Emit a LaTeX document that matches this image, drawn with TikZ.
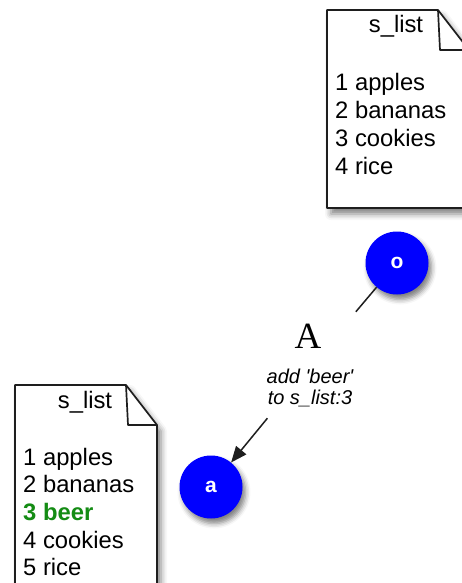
\documentclass[tikz,border=0pt]{standalone}
\usepackage{fontspec}
\setmainfont{Liberation Sans}
\newfontfamily\labelserif{Liberation Serif}
\usetikzlibrary{arrows.meta,shadows.blur}

\definecolor{inkgray}{RGB}{30,30,30}
\definecolor{beergreen}{RGB}{20,140,20}
\definecolor{stateblue}{RGB}{0,0,255}

\tikzset{
  sheet/.style={draw=inkgray, line width=1.7pt, line join=round, fill=white,
    blur shadow={shadow xshift=4pt, shadow yshift=-6pt, shadow blur radius=6pt, shadow opacity=50}},
  flap/.style={draw=inkgray, line width=1.7pt, line join=round},
  entry/.style={anchor=base west, inner sep=0pt, text=black, font=\fontsize{23.8}{27}\selectfont},
  sheettitle/.style={anchor=base, inner sep=0pt, text=black, font=\fontsize{23.8}{27}\selectfont},
  state/.style={circle, fill=stateblue, minimum size=63pt, inner sep=0pt, text=white,
    font=\bfseries\fontsize{21}{24}\selectfont,
    blur shadow={shadow xshift=3pt, shadow yshift=-5pt, shadow blur radius=5pt, shadow opacity=50}},
  link/.style={draw=inkgray, line width=1.5pt},
}

\begin{document}
\begin{tikzpicture}[x=1pt, y=-1pt]
\useasboundingbox (0,0) rectangle (462,583);
\clip (0,0) rectangle (462,583);

% upper list sheet
\path[sheet] (327,10) -- (438,10) -- (469,50) -- (469,208) -- (327,208) -- cycle;
\path[flap] (438,10) -- (440,50) -- (469,50);
\node[sheettitle] (ttitle) at (396,33) {s\_list};
\node[entry] (t1) at (335,91.0) {1 apples};
\node[entry] (t2) at (335,118.7) {2 bananas};
\node[entry] (t3) at (335,146.4) {3 cookies};
\node[entry] (t4) at (335,174.1) {4 rice};

% lower list sheet
\path[sheet] (15,385) -- (126,385) -- (157,425) -- (157,600) -- (15,600) -- cycle;
\path[flap] (126,385) -- (128,425) -- (157,425);
\node[sheettitle] (btitle) at (85,408) {s\_list};
\node[entry] (b1) at (23,465.0) {1 apples};
\node[entry] (b2) at (23,492.7) {2 bananas};
\node[entry, text=beergreen, font=\bfseries\fontsize{23.8}{27}\selectfont] (b3) at (23,520.4) {3 beer};
\node[entry] (b4) at (23,548.1) {4 cookies};
\node[entry] (b5) at (23,575.8) {5 rice};

% states
\node[state] (o) at (397,263) {o};
\node[state] (a) at (211,487) {a};

% transition label
\node[minimum width=92pt, minimum height=106pt, inner sep=0pt] (lab) at (311,365) {};
\node[inner sep=0pt, text=black, font=\labelserif\fontsize{37}{40}\selectfont] (actA) at (308,336) {A};
\node[inner sep=0pt, align=center, text=black, font=\itshape\fontsize{20}{20.5}\selectfont] (actnote) at (310,388) {add \textquotesingle beer\textquotesingle\\to s\_list:3};

\draw[link] (o) -- (lab);
\draw[link, -{Triangle[length=16pt, width=13pt]}] (lab) -- (a);
\end{tikzpicture}
\end{document}
